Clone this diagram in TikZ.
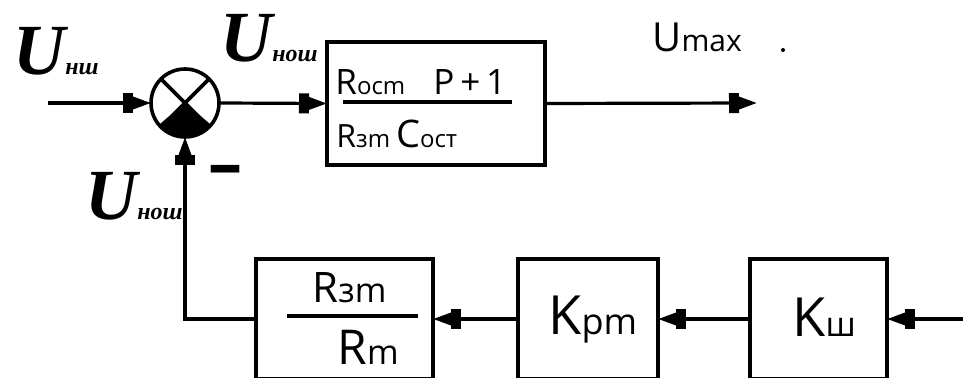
\documentclass[tikz,border=0pt]{standalone}
\usepackage{fontspec}
\setmainfont{Open Sans}
\newfontfamily\ufont{Liberation Serif}
\usetikzlibrary{arrows.meta}
\newcommand{\setfs}[1]{\fontsize{#1}{#1}\selectfont}
\tikzset{
  blk/.style={draw, line width=1.8pt, inner sep=0pt, outer sep=0pt},
  sig/.style={line width=1.6pt, -{Rectangle[length=5pt,width=10pt]Triangle[length=9pt,width=6pt]}},
  ulab/.style={anchor=base west, inner sep=0pt, font=\ufont\bfseries\itshape},
  txt/.style={anchor=base west, inner sep=0pt},
}

\begin{document}
\begin{tikzpicture}[x=0.5pt, y=-0.5pt]
  \useasboundingbox (0,0) rectangle (963,378);
  % summing junction
  \node[circle, draw, line width=1.8pt, minimum size=34pt, inner sep=0pt, outer sep=0pt] (sum) at (185,103) {};
  \fill (sum.center) -- (sum.-40) arc[start angle=-40, end angle=-140, radius=17pt] -- cycle;
  \draw[line width=1.8pt] (sum.45) -- (sum.-135) (sum.135) -- (sum.-45);
  % forward path
  \node[blk, minimum width=109pt, minimum height=61.5pt] (ptf) at (436,103.5) {};
  \coordinate (xin) at (48,103);
  \coordinate (xout) at (757,103);
  \draw[sig] (xin) -- (sum.west);
  \draw[sig] (sum.east) -- (ptf.west);
  \draw[sig] (ptf.east) -- (xout);
  \node[txt] (tnum) at (335,95) {\setfs{17.5}R\setfs{12}осm};
  \node[txt] (tp) at (433,95) {\setfs{17.5}P\,+\,1};
  \draw[line width=1.8pt] (343,102) -- (512,102);
  \node[txt] (tden) at (336,148) {\setfs{16}R\setfs{12}зm\hspace{3pt}\setfs{19}C\setfs{12}ост};
  % feedback path
  \node[blk, minimum width=88.5pt, minimum height=60pt] (fbk) at (344.5,319) {};
  \node[blk, minimum width=70pt, minimum height=60pt] (kpm) at (588,319) {};
  \node[blk, minimum width=68.5pt, minimum height=60pt] (ksh) at (818.5,319) {};
  \coordinate (yin) at (970,319);
  \draw[sig] (yin) -- (ksh.east);
  \draw[sig] (ksh.west) -- (kpm.east);
  \draw[sig] (kpm.west) -- (fbk.east);
  \draw[sig] (fbk.west) -| (sum.south);
  \node[txt] (tr3) at (312,303) {\setfs{21}R\setfs{17}зm};
  \draw[line width=1.8pt] (287,316) -- (418,316);
  \node[txt] (trm) at (337,365) {\setfs{24}R\setfs{17}m};
  \node[txt] (tk1) at (548,335) {\setfs{27}K\setfs{18}pm};
  \node[txt] (tk2) at (792,337) {\setfs{27}K\setfs{17}ш};
  % signals
  \node[ulab] (uin) at (13,75) {\setfs{36}U\setfs{12}нш};
  \node[ulab] (uerr) at (220,62) {\setfs{36}U\setfs{12}нош};
  \node[ulab] (ufb) at (85,220) {\setfs{36}U\setfs{12}нош};
  \node[txt] (umax) at (652,52) {\setfs{20}U\setfs{15}max};
  \node[inner sep=0pt] (minus) at (225,176) {\bfseries\setfs{34}–};
  \fill (783,50) circle (1pt);
\end{tikzpicture}
\end{document}
